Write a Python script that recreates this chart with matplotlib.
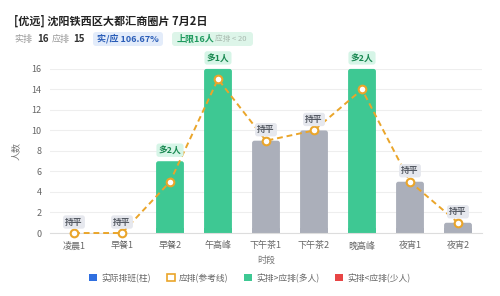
import matplotlib.pyplot as plt
from matplotlib.patches import FancyBboxPatch, Rectangle, Patch

plt.rcParams['font.family'] = ['Noto Sans CJK SC', 'DejaVu Sans']

slots = ['凌晨1', '早餐1', '早餐2', '午高峰', '下午茶1', '下午茶2', '晚高峰', '夜宵1', '夜宵2']
actual = [0, 0, 7, 16, 9, 10, 16, 5, 1]
expected = [0, 0, 5, 15, 9, 10, 14, 5, 1]
tags = ['持平', '持平', '多2人', '多1人', '持平', '持平', '多2人', '持平', '持平']

GREEN = '#3ec893'
GREY = '#abafba'
ORANGE = '#eaa52a'
BLUE = '#2f6fe0'
RED = '#e84545'

W, H = 500, 296
fig = plt.figure(figsize=(5, 2.96), dpi=100)
ax = fig.add_axes([0.1, 0.2128, 0.864, 0.5544])
ax.set_xlim(-0.5, len(slots) - 0.5)
ax.set_ylim(0, 16)

bw = 0.58
aspect = (432 / 9) / (164 / 16)
for i, (a, e) in enumerate(zip(actual, expected)):
    if a <= 0:
        continue
    col = GREEN if a > e else (RED if a < e else GREY)
    p = FancyBboxPatch((i - bw / 2, 0), bw, a,
                       boxstyle='round,pad=0,rounding_size=0.05',
                       mutation_aspect=aspect, fc=col, ec='none', zorder=2, clip_on=False)
    ax.add_patch(p)
    ax.add_patch(Rectangle((i - bw / 2, 0), bw, min(a, 0.5), fc=col, ec='none', zorder=2))

x = list(range(len(slots)))
ax.plot(x, expected, color=ORANGE, lw=1.4, ls=(0, (3, 2)), zorder=3,
        marker='o', ms=5.5, mfc='white', mec=ORANGE, mew=1.5, clip_on=False)

for i, t in enumerate(tags):
    top = max(actual[i], expected[i])
    if t.startswith('多'):
        fc, tc = '#d6f5e7', '#17874f'
    else:
        fc, tc = '#e6e8ee', '#555a63'
    ax.annotate(t, (i, top), xytext=(0, 11), textcoords='offset pixels',
                ha='center', va='center', fontsize=6.3, fontweight='bold', color=tc,
                bbox=dict(boxstyle='round,pad=0.25,rounding_size=0.3', fc=fc, ec='none'),
                zorder=5, annotation_clip=False)

ax.set_xticks(x)
ax.set_xticklabels(slots)
ax.set_yticks(range(0, 17, 2))
ax.tick_params(length=0, labelsize=6.5, colors='#666666', pad=6)
ax.grid(axis='y', color='#eeeeee', lw=0.8)
ax.set_axisbelow(True)
for s in ['top', 'right', 'left']:
    ax.spines[s].set_visible(False)
ax.spines['bottom'].set_color('#dddddd')
ax.set_xlabel('时段', fontsize=6.5, color='#777777', labelpad=4)
ax.set_ylabel('人数', fontsize=6.5, color='#777777', labelpad=8)


def badge(x0, x1, fc):
    fig.patches.append(FancyBboxPatch((x0 / W, 1 - 46 / H), (x1 - x0) / W, 14 / H,
                                      boxstyle='round,pad=0,rounding_size=0.006',
                                      mutation_aspect=W / H, fc=fc, ec='none',
                                      transform=fig.transFigure, figure=fig))


# header
fig.text(14 / W, 1 - 21 / H, '[优远] 沈阳铁西区大都汇商圈片 7月2日', fontsize=8,
         fontweight='bold', color='#222222', va='center')
y2 = 1 - 39 / H
fig.text(14 / W, y2, '实排', fontsize=6.5, color='#999999', va='center')
fig.text(37 / W, y2, '16', fontsize=7, fontweight='bold', color='#333333', va='center')
fig.text(52 / W, y2, '应排', fontsize=6.5, color='#999999', va='center')
fig.text(73 / W, y2, '15', fontsize=7, fontweight='bold', color='#333333', va='center')
badge(93, 163, '#e3ecfa')
fig.text(128 / W, y2, '实/应 106.67%', fontsize=6.5, fontweight='bold', color='#2a5db8',
         va='center', ha='center')
badge(172, 253, '#ddf5e9')
fig.text(177 / W, y2, '上限16人', fontsize=6.5, fontweight='bold', color='#1f9a5e', va='center')
fig.text(215 / W, y2, '应排 < 20', fontsize=5.5, color='#a8b8ae', va='center')

handles = [
    Patch(fc=BLUE, ec='none', label='实际排班(柱)'),
    Patch(fc='white', ec=ORANGE, lw=1.2, label='应排(参考线)'),
    Patch(fc=GREEN, ec='none', label='实排>应排(多人)'),
    Patch(fc=RED, ec='none', label='实排<应排(少人)'),
]
leg = fig.legend(handles=handles, loc='center', bbox_to_anchor=(0.5, 1 - 278 / H), ncol=4,
                 frameon=False, fontsize=6.3, handlelength=0.9, handleheight=0.9,
                 handletextpad=0.5, columnspacing=1.8)
for t in leg.get_texts():
    t.set_color('#666666')

fig.savefig('out.png', dpi=100)
